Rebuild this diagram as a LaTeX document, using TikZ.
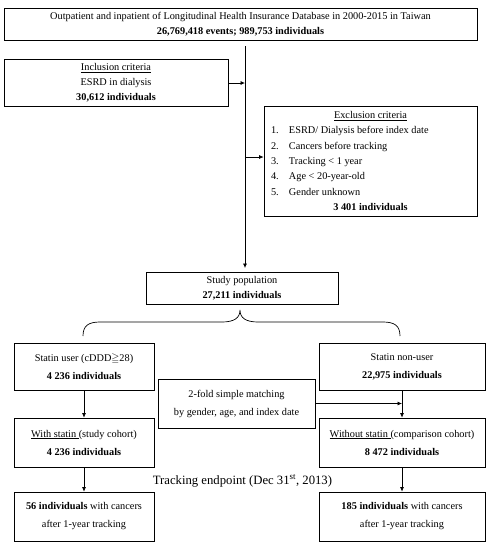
\documentclass[tikz,border=0pt]{standalone}
\usepackage{fontspec}
\setmainfont{Liberation Serif}
\usepackage{amssymb}
\usetikzlibrary{arrows.meta}
\begin{document}
\begin{tikzpicture}[x=1pt,y=-1pt,
  box/.style={draw, line width=0.7pt, inner sep=0pt, align=center,
    font=\fontsize{10.3}{15}\selectfont},
  widebox/.style={box, font=\fontsize{10.3}{18}\selectfont},
  arr/.style={line width=0.7pt, -{Latex[length=4.5pt,width=4pt]}},
  conn/.style={line width=0.7pt}]
\useasboundingbox (0,0) rectangle (490,550);
\fill[white] (0,0) rectangle (490,550);

\node[box, minimum width=473pt, minimum height=32pt] (top) at (240.5,24)
  {Outpatient and inpatient of Longitudinal Health Insurance Database in 2000-2015 in Taiwan\\
   \textbf{26,769,418 events; 989,753 individuals}};

\node[box, minimum width=224pt, minimum height=47pt] (incl) at (116,83)
  {\underline{Inclusion criteria}\\ESRD in dialysis\\\textbf{30,612 individuals}};

\node[box, minimum width=213pt, minimum height=110pt,
  font=\fontsize{10.3}{15.3}\selectfont] (excl) at (370.5,161)
  {\underline{Exclusion criteria}\\
   \makebox[199pt][l]{\makebox[18pt][l]{1.}ESRD/ Dialysis before index date}\\
   \makebox[199pt][l]{\makebox[18pt][l]{2.}Cancers before tracking}\\
   \makebox[199pt][l]{\makebox[18pt][l]{3.}Tracking < 1 year}\\
   \makebox[199pt][l]{\makebox[18pt][l]{4.}Age < 20-year-old}\\
   \makebox[199pt][l]{\makebox[18pt][l]{5.}Gender unknown}\\
   \textbf{3 401 individuals}};

\node[box, minimum width=192pt, minimum height=32pt] (study) at (242,288)
  {Study population\\\textbf{27,211 individuals}};

\node[widebox, minimum width=140pt, minimum height=47pt] (user) at (84,366.5)
  {Statin user (cDDD$\geqq$28)\\\textbf{4 236 individuals}};
\node[widebox, minimum width=166pt, minimum height=47pt] (nonuser) at (402,366.5)
  {Statin non-user\\\textbf{22,975 individuals}};
\node[widebox, minimum width=157pt, minimum height=49pt] (match) at (236.5,403.5)
  {2-fold simple matching\\by gender, age, and index date};
\node[widebox, minimum width=140pt, minimum height=49pt] (with) at (84,442.5)
  {\underline{With statin }(study cohort)\\\textbf{4 236 individuals}};
\node[widebox, minimum width=166pt, minimum height=49pt] (without) at (402,442.5)
  {\underline{Without statin }(comparison cohort)\\\textbf{8 472 individuals}};
\node[widebox, minimum width=140pt, minimum height=49pt] (res1) at (84,516.5)
  {\textbf{56 individuals} with cancers\\after 1-year tracking};
\node[widebox, minimum width=166pt, minimum height=49pt] (res2) at (402,516.5)
  {\textbf{185 individuals} with cancers\\after 1-year tracking};

\node[font=\fontsize{12.7}{14}\selectfont, inner sep=0pt] (track) at (242.5,481)
  {Tracking endpoint (Dec 31\textsuperscript{st}, 2013)};

% main trunk
\coordinate (vtop) at (245,46);
\coordinate (vbot) at (245,268);
\draw[arr] (vtop) -- (vbot);
\draw[arr] (incl.east) -- (incl.east -| vtop);
\draw[arr] ([yshift=4pt]excl.west -| vtop) -- ([yshift=4pt]excl.west);

% brace
\draw[conn] (83,336) .. controls (83,326) and (88,322) .. (100,322)
  -- (222,322) .. controls (234,322) and (240,318) .. (240,310)
  .. controls (240,318) and (246,322) .. (258,322)
  -- (383,322) .. controls (395,322) and (400,326) .. (400,336);

\draw[arr] (user.south) -- (with.north);
\draw[arr] (nonuser.south) -- (without.north);
\draw[arr] (match.east) -- (match.east -| nonuser.south);
\draw[arr] (with.south) -- (res1.north);
\draw[arr] (without.south) -- (res2.north);
\end{tikzpicture}
\end{document}
